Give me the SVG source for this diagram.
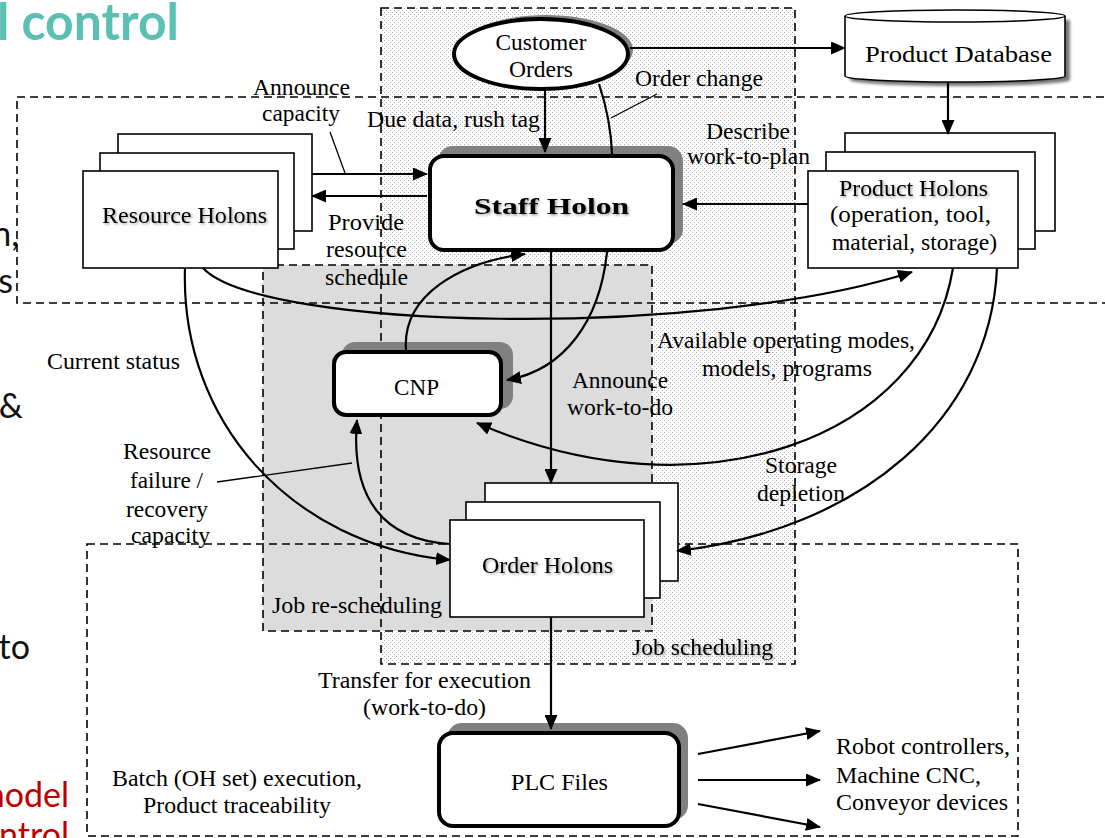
<svg xmlns="http://www.w3.org/2000/svg" width="1105" height="838" viewBox="0 0 1105 838">
  <style>
    .t { font-family: "Liberation Serif", "Times New Roman", Times, serif; font-size: 23px; fill: #000; }
    .mid { text-anchor: middle; }
    .frag { font-family: Lato, "Open Sans", sans-serif; font-size: 34px; fill: #111; text-anchor: end; }
    .red { fill: #c00000; }
    .band { fill: none; stroke: #000; stroke-width: 1.6; stroke-dasharray: 8 5; }
    .box { fill: #fff; stroke: #000; stroke-width: 1.6; }
    .heavy { fill: #fff; stroke: #000; stroke-width: 4; }
    .shade { fill: #808080; }
    .conn { fill: none; stroke: #000; stroke-width: 2.2; }
    .lead { fill: none; stroke: #000; stroke-width: 1.3; }
    .arrow { marker-end: url(#head); }
    .soft { filter: url(#textShadow); }
  </style>
  <defs>
    <pattern id="dots" patternUnits="userSpaceOnUse" width="4" height="4">
      <rect width="4" height="4" fill="#fff"/>
      <rect x="0" y="0" width="1" height="1" fill="#b0b0b0"/>
      <rect x="2" y="2" width="1" height="1" fill="#b0b0b0"/>
    </pattern>
    <marker id="head" markerUnits="userSpaceOnUse" markerWidth="15" markerHeight="13" refX="14" refY="6.5" orient="auto">
      <path d="M0,0 L15,6.5 L0,13 Z" fill="#000"/>
    </marker>
    <filter id="textShadow" x="-10%" y="-30%" width="120%" height="160%">
      <feDropShadow dx="1.5" dy="1.5" stdDeviation="1" flood-color="#000" flood-opacity="0.35"/>
    </filter>
    <filter id="blurShadow" x="-10%" y="-20%" width="120%" height="140%">
      <feGaussianBlur stdDeviation="1.5"/>
    </filter>
  </defs>

  <rect width="1105" height="838" fill="#fff"/>

  <!-- slide text running off the left edge -->
  <g id="slide-text">
    <text x="-3" y="40" font-family="Lato, 'Open Sans', sans-serif" font-size="52" font-weight="bold" fill="#5cbfb4" textLength="182" lengthAdjust="spacingAndGlyphs">l control</text>
    <text class="frag" x="19" y="246">n,</text>
    <text class="frag" x="13" y="293">s</text>
    <text class="frag" x="23" y="418">&amp;</text>
    <text class="frag" x="30" y="659">to</text>
    <text class="frag red" x="69" y="807">model</text>
    <text class="frag red" x="69" y="847">ontrol</text>
  </g>

  <!-- scheduling regions -->
  <g id="regions">
    <rect x="381" y="8" width="414" height="656" fill="url(#dots)"/>
    <rect x="263" y="265" width="389" height="366" fill="#dcdcdc"/>
    <rect class="band" x="17" y="97" width="1100" height="206"/>
    <rect class="band" x="381" y="8" width="414" height="656"/>
    <rect class="band" x="263" y="265" width="389" height="366"/>
    <rect class="band" x="87" y="544" width="931" height="292"/>
  </g>

  <!-- nodes -->
  <g id="customer-orders">
    <ellipse class="shade" cx="546" cy="50" rx="87" ry="35"/>
    <ellipse class="heavy" cx="541" cy="54" rx="87" ry="35"/>
    <text class="t mid" x="541" y="50" textLength="91" lengthAdjust="spacingAndGlyphs">Customer</text>
    <text class="t mid" x="541" y="77" textLength="64" lengthAdjust="spacingAndGlyphs">Orders</text>
  </g>

  <g id="product-database">
    <path d="M850,20 L850,80 A110,6 0 0 0 1070,80 L1070,20 Z" fill="#777" filter="url(#blurShadow)"/>
    <path d="M845,16 L845,76 A110,6 0 0 0 1065,76 L1065,16 A110,6 0 0 0 845,16 Z" fill="#fff" stroke="#000" stroke-width="1.6"/>
    <path d="M845,16 A110,6 0 0 0 1065,16" fill="none" stroke="#000" stroke-width="1.6"/>
    <text class="t mid" x="958.5" y="62" font-size="25" textLength="187" lengthAdjust="spacingAndGlyphs">Product Database</text>
  </g>

  <g id="resource-holons">
    <rect class="box" x="118" y="134" width="194" height="97"/>
    <rect class="box" x="100" y="153" width="194" height="96"/>
    <rect class="box" x="83" y="171" width="195" height="97"/>
    <text class="t mid soft" x="184.5" y="223" textLength="165" lengthAdjust="spacingAndGlyphs">Resource Holons</text>
  </g>

  <g id="product-holons">
    <rect class="box" x="845" y="133" width="210" height="98"/>
    <rect class="box" x="826" y="152" width="209" height="97"/>
    <rect class="box" x="808" y="171" width="210" height="97"/>
    <text class="t mid soft" x="913.5" y="196" textLength="149" lengthAdjust="spacingAndGlyphs">Product Holons</text>
    <text class="t mid" x="910.5" y="222" textLength="161" lengthAdjust="spacingAndGlyphs">(operation, tool,</text>
    <text class="t mid" x="914.5" y="250" textLength="165" lengthAdjust="spacingAndGlyphs">material, storage)</text>
  </g>

  <g id="staff-holon">
    <rect class="shade" x="438" y="146" width="245" height="98" rx="15"/>
    <rect class="heavy" x="430" y="156" width="243" height="94" rx="14"/>
    <text class="t mid soft" x="551.5" y="214" font-size="32" font-weight="bold" textLength="155" lengthAdjust="spacingAndGlyphs">Staff Holon</text>
  </g>

  <g id="cnp">
    <rect class="shade" x="342" y="342" width="171" height="67" rx="13"/>
    <rect class="heavy" x="334" y="352" width="167" height="63" rx="12"/>
    <text class="t mid" x="416.5" y="395" textLength="45" lengthAdjust="spacingAndGlyphs">CNP</text>
  </g>

  <g id="order-holons">
    <rect class="box" x="485" y="483" width="193" height="98"/>
    <rect class="box" x="466" y="502" width="194" height="96"/>
    <rect class="box" x="450" y="520" width="194" height="97"/>
    <text class="t mid soft" x="547.5" y="573" textLength="131" lengthAdjust="spacingAndGlyphs">Order Holons</text>
  </g>

  <g id="plc-files">
    <rect class="shade" x="447" y="723" width="241" height="97" rx="15"/>
    <rect class="heavy" x="439" y="733" width="240" height="93" rx="14"/>
    <text class="t mid" x="559.5" y="790" textLength="97" lengthAdjust="spacingAndGlyphs">PLC Files</text>
  </g>

  <!-- connectors -->
  <g id="connectors">
    <path class="conn arrow" d="M630,48 L845,48"/>
    <path class="conn arrow" d="M948,83 L948,134"/>
    <path class="conn arrow" d="M545,90 L545,152"/>
    <path class="conn" d="M599,84 C606,105 611,125 612,154"/>
    <path class="conn arrow" d="M312,174 L427,174"/>
    <path class="conn arrow" d="M427,196 L312,196"/>
    <path class="conn arrow" d="M808,204 L683,204"/>
    <path class="conn arrow" d="M551,252 L551,483"/>
    <path class="conn arrow" d="M406,350 C402,295 460,262 525,254"/>
    <path class="conn arrow" d="M607,252 C600,320 565,370 507,380"/>
    <path class="conn arrow" d="M203,268 C260,330 700,340 912,272"/>
    <path class="conn arrow" d="M953,268 C925,440 700,520 477,423"/>
    <path class="conn arrow" d="M997,268 C990,420 860,530 677,551"/>
    <path class="conn arrow" d="M185,268 C180,420 290,545 450,560"/>
    <path class="conn arrow" d="M450,544 C385,540 350,500 357,420"/>
    <path class="conn arrow" d="M551,617 L551,729"/>
    <path class="conn arrow" d="M698,754 L820,731"/>
    <path class="conn arrow" d="M698,780 L820,780"/>
    <path class="conn arrow" d="M698,804 L820,827"/>
    <path class="lead" d="M330,132 L345,173"/>
    <path class="lead" d="M657,94 L611,118"/>
    <path class="lead" d="M217,482 L352,463"/>
  </g>

  <!-- connector labels -->
  <g id="labels">
    <text class="t mid" x="301.5" y="95" textLength="97" lengthAdjust="spacingAndGlyphs">Announce</text>
    <text class="t mid" x="301" y="121" textLength="78" lengthAdjust="spacingAndGlyphs">capacity</text>
    <text class="t mid" x="453.5" y="127" textLength="173" lengthAdjust="spacingAndGlyphs">Due data, rush tag</text>
    <text class="t mid" x="699" y="86" textLength="128" lengthAdjust="spacingAndGlyphs">Order change</text>
    <text class="t mid" x="748" y="139" textLength="84" lengthAdjust="spacingAndGlyphs">Describe</text>
    <text class="t mid" x="748.5" y="164" textLength="123" lengthAdjust="spacingAndGlyphs">work-to-plan</text>
    <text class="t mid" x="366" y="230" textLength="76" lengthAdjust="spacingAndGlyphs">Provide</text>
    <text class="t mid" x="366.5" y="257" textLength="81" lengthAdjust="spacingAndGlyphs">resource</text>
    <text class="t mid" x="366.5" y="285" textLength="83" lengthAdjust="spacingAndGlyphs">schedule</text>
    <text class="t mid" x="620" y="388" textLength="96" lengthAdjust="spacingAndGlyphs">Announce</text>
    <text class="t mid" x="620" y="415" textLength="106" lengthAdjust="spacingAndGlyphs">work-to-do</text>
    <text class="t mid" x="786" y="348" textLength="258" lengthAdjust="spacingAndGlyphs">Available operating modes,</text>
    <text class="t mid" x="787" y="376" textLength="170" lengthAdjust="spacingAndGlyphs">models, programs</text>
    <text class="t mid" x="113.5" y="369" textLength="133" lengthAdjust="spacingAndGlyphs">Current status</text>
    <text class="t mid" x="167" y="459" textLength="88" lengthAdjust="spacingAndGlyphs">Resource</text>
    <text class="t mid" x="166.5" y="488" textLength="73" lengthAdjust="spacingAndGlyphs">failure /</text>
    <text class="t mid" x="167" y="517" textLength="82" lengthAdjust="spacingAndGlyphs">recovery</text>
    <text class="t mid" x="170.5" y="543" textLength="79" lengthAdjust="spacingAndGlyphs">capacity</text>
    <text class="t mid" x="801" y="473" textLength="72" lengthAdjust="spacingAndGlyphs">Storage</text>
    <text class="t mid" x="801" y="501" textLength="88" lengthAdjust="spacingAndGlyphs">depletion</text>
    <text class="t mid" x="357" y="613" textLength="170" lengthAdjust="spacingAndGlyphs">Job re-scheduling</text>
    <text class="t mid soft" x="702.5" y="655" textLength="141" lengthAdjust="spacingAndGlyphs">Job scheduling</text>
    <text class="t mid" x="424.5" y="688" textLength="213" lengthAdjust="spacingAndGlyphs">Transfer for execution</text>
    <text class="t mid" x="424.5" y="715" textLength="123" lengthAdjust="spacingAndGlyphs">(work-to-do)</text>
    <text class="t" x="836" y="754" textLength="174" lengthAdjust="spacingAndGlyphs">Robot controllers,</text>
    <text class="t" x="836" y="783" textLength="145" lengthAdjust="spacingAndGlyphs">Machine CNC,</text>
    <text class="t" x="836" y="810" textLength="172" lengthAdjust="spacingAndGlyphs">Conveyor devices</text>
    <text class="t mid" x="237" y="786" textLength="250" lengthAdjust="spacingAndGlyphs">Batch (OH set) execution,</text>
    <text class="t mid" x="237" y="813" textLength="188" lengthAdjust="spacingAndGlyphs">Product traceability</text>
  </g>
</svg>
